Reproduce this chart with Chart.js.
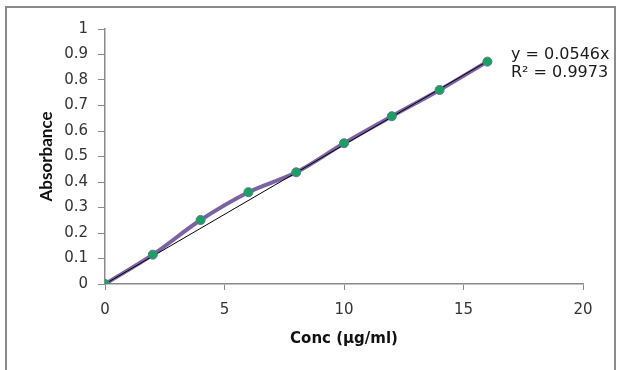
<!DOCTYPE html>
<html><head><meta charset="utf-8">
<script src="https://cdn.jsdelivr.net/npm/chart.js@4"></script>
<style>html,body{margin:0;padding:0;background:#fff;}#wrap{width:621px;height:370px;position:relative;}</style>
</head><body><div id="wrap"><canvas id="c" width="621" height="370"></canvas></div>
<script>
const conc = [0, 2, 4, 6, 8, 10, 12, 14, 16];
const absorbance = [0, 0.115, 0.251, 0.36, 0.438, 0.552, 0.658, 0.761, 0.872];
const trendX = [0, 16];
const trendY = [0, 0.8736];
const equationText = ["y = 0.0546x", "R\u00B2 = 0.9973"];
const xTitle = "Conc (\u00B5g/ml)";
const yTitle = "Absorbance";

const TICKFONT = "'DejaVu Sans', sans-serif";

const frame = {
  id: 'frame',
  beforeDraw(chart) {
    const ctx = chart.ctx;
    ctx.save();
    ctx.fillStyle = '#fff';
    ctx.fillRect(0, 0, chart.width, chart.height);
    ctx.strokeStyle = '#8a8a8a';
    ctx.lineWidth = 2;
    ctx.strokeRect(6, 7, 609, 400);
    ctx.restore();
  },
  afterDraw(chart) {
    const ctx = chart.ctx;
    const a = chart.chartArea;
    ctx.save();
    ctx.fillStyle = '#1a1a1a';
    ctx.font = "16px " + TICKFONT;
    ctx.textAlign = 'left';
    ctx.textBaseline = 'alphabetic';
    ctx.fillText(equationText[0], a.right - 72, 59);
    ctx.fillText(equationText[1], a.right - 72, 77);
    ctx.restore();
  }
};

const pts = conc.map((x, i) => ({x: x, y: absorbance[i]}));
const trend = trendX.map((x, i) => ({x: x, y: trendY[i]}));

new Chart(document.getElementById('c'), {
  type: 'scatter',
  data: {
    datasets: [
      { data: pts, showLine: true, borderColor: '#7b62a6', borderWidth: 4, tension: 0.35, pointRadius: 0, order: 3 },
      { data: trend, showLine: true, borderColor: '#000', borderWidth: 1, pointRadius: 0, order: 2 },
      { data: pts, showLine: false, pointRadius: 4.5, pointBackgroundColor: '#16a35a', pointBorderColor: '#5b74a0', pointBorderWidth: 1, order: 1 }
    ]
  },
  options: {
    responsive: false,
    animation: false,
    events: [],
    layout: { padding: { left: 32, right: 38, top: 29, bottom: 18 } },
    plugins: { legend: { display: false }, tooltip: { enabled: false } },
    scales: {
      x: {
        type: 'linear', min: 0, max: 20,
        ticks: { stepSize: 5, color: '#333', font: { family: TICKFONT, size: 15 }, padding: 11 },
        grid: { drawOnChartArea: false, color: '#8a8a8a', tickLength: 6 },
        border: { color: '#8a8a8a', width: 1.5 },
        title: { display: true, text: xTitle, color: '#111', font: { family: TICKFONT, size: 15, weight: 'bold' } },
        afterFit(s) { s.height = 68; }
      },
      y: {
        type: 'linear', min: 0, max: 1,
        ticks: { stepSize: 0.1, color: '#333', font: { family: TICKFONT, size: 15 }, padding: 10,
          callback: v => String(Math.round(v * 10) / 10) },
        grid: { drawOnChartArea: false, color: '#8a8a8a', tickLength: 7 },
        border: { color: '#8a8a8a', width: 1.5 },
        title: { display: true, text: yTitle, color: '#111', font: { family: "Lato, sans-serif", size: 17, weight: 'bold' } },
        afterFit(s) { s.width = 73; }
      }
    }
  },
  plugins: [frame]
});
</script>
</body></html>
